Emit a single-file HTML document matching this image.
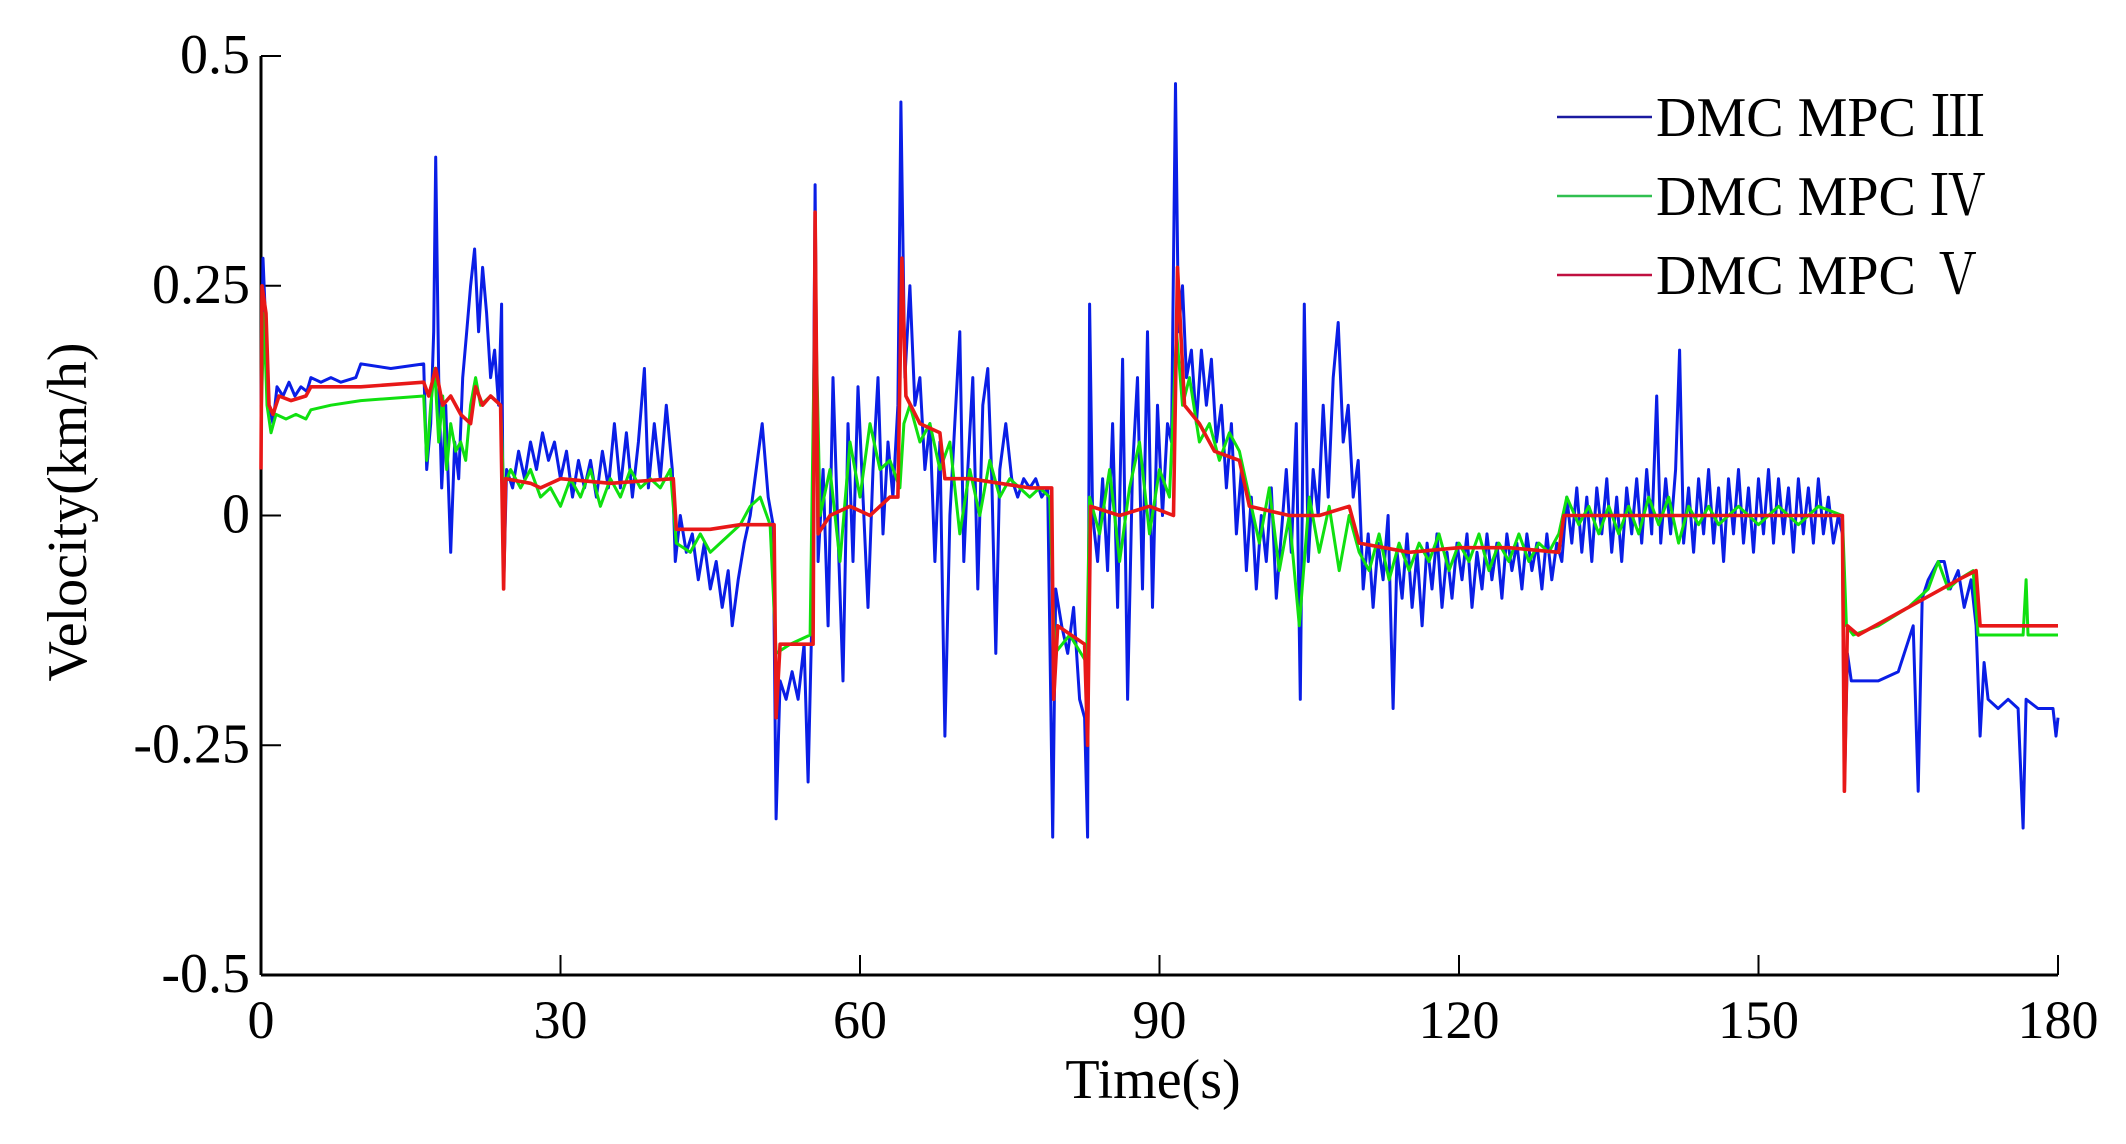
<!DOCTYPE html>
<html><head><meta charset="utf-8"><style>
html,body{margin:0;padding:0;background:#fff;}
svg{display:block;font-family:"Liberation Serif","Noto Serif CJK SC",serif;}
</style></head><body>
<svg id="chart" width="2126" height="1144" viewBox="0 0 2126 1144" xmlns="http://www.w3.org/2000/svg">
<g id="axes"></g>
<g id="series"></g>
<g id="legend"></g>
</svg>
<script>
const xTicks=[0,30,60,90,120,150,180];
const yTicks=[0.5,0.25,0,-0.25,-0.5];
const yTickLabels=["0.5","0.25","0","-0.25","-0.5"];
const seriesNames=["DMC MPC Ⅲ","DMC MPC Ⅳ","DMC MPC Ⅴ"];
const blue=[[0,0.12],[0.2,0.28],[0.5,0.2],[0.8,0.12],[1.2,0.1],[1.6,0.14],[2.2,0.13],[2.8,0.145],[3.4,0.13],[4,0.14],[4.6,0.135],[5,0.15],[6,0.145],[7,0.15],[8,0.145],[9.5,0.15],[10,0.165],[13,0.16],[16.3,0.165],[16.6,0.05],[17,0.1],[17.3,0.2],[17.5,0.39],[17.8,0.15],[18.1,0.03],[18.5,0.12],[19,-0.04],[19.4,0.08],[19.8,0.04],[20.2,0.15],[20.6,0.2],[21,0.25],[21.4,0.29],[21.8,0.2],[22.2,0.27],[22.6,0.22],[23,0.15],[23.4,0.18],[23.8,0.12],[24.1,0.23],[24.3,-0.08],[24.6,0.05],[25.2,0.03],[25.8,0.07],[26.4,0.04],[27,0.08],[27.6,0.05],[28.2,0.09],[28.8,0.06],[29.4,0.08],[30,0.04],[30.6,0.07],[31.2,0.02],[31.8,0.06],[32.4,0.03],[33,0.06],[33.6,0.02],[34.2,0.07],[34.8,0.03],[35.4,0.1],[36,0.03],[36.6,0.09],[37.2,0.02],[37.8,0.08],[38.4,0.16],[38.8,0.03],[39.4,0.1],[40,0.04],[40.6,0.12],[41.2,0.05],[41.5,-0.05],[42,0.0],[42.6,-0.04],[43.2,-0.02],[43.8,-0.07],[44.4,-0.03],[45,-0.08],[45.6,-0.05],[46.2,-0.1],[46.8,-0.06],[47.2,-0.12],[47.8,-0.07],[48.4,-0.03],[49,0.0],[49.6,0.05],[50.2,0.1],[50.8,0.02],[51.3,-0.01],[51.6,-0.33],[52,-0.18],[52.6,-0.2],[53.2,-0.17],[53.8,-0.2],[54.4,-0.14],[54.8,-0.29],[55.2,-0.1],[55.5,0.36],[55.8,-0.05],[56.3,0.05],[56.8,-0.12],[57.3,0.15],[57.8,-0.02],[58.3,-0.18],[58.8,0.1],[59.3,-0.05],[59.8,0.14],[60.3,0.02],[60.8,-0.1],[61.3,0.05],[61.8,0.15],[62.3,-0.02],[62.8,0.08],[63.3,0.02],[63.8,0.12],[64.1,0.45],[64.5,0.15],[65,0.25],[65.5,0.12],[66,0.15],[66.5,0.05],[67,0.1],[67.5,-0.05],[68,0.08],[68.5,-0.24],[69,0.0],[69.5,0.1],[70,0.2],[70.4,-0.05],[70.8,0.05],[71.3,0.15],[71.8,-0.08],[72.3,0.12],[72.8,0.16],[73.2,0.04],[73.6,-0.15],[74,0.05],[74.6,0.1],[75.2,0.04],[75.8,0.02],[76.4,0.04],[77,0.03],[77.6,0.04],[78.2,0.02],[78.8,0.03],[79.3,-0.35],[79.6,-0.08],[80.2,-0.12],[80.8,-0.15],[81.4,-0.1],[82,-0.2],[82.5,-0.22],[82.8,-0.35],[83,0.23],[83.3,0.0],[83.8,-0.05],[84.3,0.04],[84.8,-0.06],[85.3,0.1],[85.8,-0.1],[86.3,0.17],[86.8,-0.2],[87.3,0.05],[87.8,0.15],[88.3,-0.08],[88.8,0.2],[89.3,-0.1],[89.8,0.12],[90.3,0.0],[90.8,0.1],[91.2,0.08],[91.6,0.47],[91.9,0.2],[92.3,0.25],[92.7,0.15],[93.2,0.18],[93.7,0.1],[94.2,0.18],[94.7,0.12],[95.2,0.17],[95.7,0.08],[96.2,0.12],[96.7,0.03],[97.2,0.1],[97.7,-0.02],[98.2,0.05],[98.7,-0.06],[99.2,0.02],[99.7,-0.08],[100.2,0.0],[100.7,-0.05],[101.2,0.03],[101.7,-0.09],[102.2,-0.02],[102.7,0.05],[103.2,-0.04],[103.7,0.1],[104.1,-0.2],[104.5,0.23],[104.9,-0.05],[105.4,0.05],[105.9,0.0],[106.4,0.12],[106.9,0.02],[107.4,0.15],[107.9,0.21],[108.4,0.08],[108.9,0.12],[109.4,0.02],[109.9,0.06],[110.4,-0.08],[110.9,-0.02],[111.4,-0.1],[111.9,-0.03],[112.4,-0.07],[112.9,0.0],[113.4,-0.21],[113.8,-0.04],[114.3,-0.09],[114.8,-0.02],[115.3,-0.1],[115.8,-0.04],[116.3,-0.12],[116.8,-0.03],[117.3,-0.08],[117.8,-0.02],[118.3,-0.1],[118.8,-0.04],[119.3,-0.09],[119.8,-0.03],[120.3,-0.07],[120.8,-0.02],[121.3,-0.1],[121.8,-0.04],[122.3,-0.08],[122.8,-0.02],[123.3,-0.07],[123.8,-0.03],[124.3,-0.09],[124.8,-0.02],[125.3,-0.06],[125.8,-0.03],[126.3,-0.08],[126.8,-0.02],[127.3,-0.06],[127.8,-0.03],[128.3,-0.08],[128.8,-0.02],[129.3,-0.07],[129.8,-0.03],[130.3,-0.05],[130.8,0.02],[131.3,-0.03],[131.8,0.03],[132.3,-0.04],[132.8,0.02],[133.3,-0.05],[133.8,0.03],[134.3,-0.02],[134.8,0.04],[135.3,-0.04],[135.8,0.02],[136.3,-0.05],[136.8,0.03],[137.3,-0.02],[137.8,0.04],[138.3,-0.03],[138.8,0.05],[139.3,-0.02],[139.8,0.13],[140.2,-0.03],[140.7,0.04],[141.2,-0.02],[141.7,0.05],[142.1,0.18],[142.5,-0.03],[143,0.03],[143.5,-0.04],[144,0.04],[144.5,-0.02],[145,0.05],[145.5,-0.03],[146,0.03],[146.5,-0.05],[147,0.04],[147.5,-0.02],[148,0.05],[148.5,-0.03],[149,0.03],[149.5,-0.04],[150,0.04],[150.5,-0.02],[151,0.05],[151.5,-0.03],[152,0.04],[152.5,-0.02],[153,0.03],[153.5,-0.04],[154,0.04],[154.5,-0.02],[155,0.03],[155.5,-0.03],[156,0.04],[156.5,-0.02],[157,0.02],[157.5,-0.03],[158,0.0],[158.4,-0.02],[158.6,-0.3],[158.9,-0.15],[159.3,-0.18],[162,-0.18],[164,-0.17],[165.5,-0.12],[166,-0.3],[166.4,-0.09],[167,-0.07],[168,-0.05],[168.6,-0.05],[169.2,-0.08],[170,-0.06],[170.6,-0.1],[171.3,-0.07],[171.8,-0.12],[172.2,-0.24],[172.6,-0.16],[173,-0.2],[174,-0.21],[175,-0.2],[176,-0.21],[176.5,-0.34],[176.8,-0.2],[178,-0.21],[179.5,-0.21],[179.8,-0.24],[180,-0.22]];
const green=[[0,0.1],[0.3,0.22],[0.6,0.12],[1,0.09],[1.5,0.11],[2.5,0.105],[3.5,0.11],[4.5,0.105],[5,0.115],[7,0.12],[10,0.125],[16.3,0.13],[16.6,0.06],[17,0.12],[17.4,0.16],[17.8,0.08],[18.2,0.13],[18.6,0.05],[19,0.1],[19.5,0.07],[20,0.08],[20.5,0.06],[21,0.12],[21.5,0.15],[22,0.12],[23,0.13],[24,0.12],[24.3,0.03],[25,0.05],[26,0.03],[27,0.05],[28,0.02],[29,0.03],[30,0.01],[31,0.04],[32,0.02],[33,0.05],[34,0.01],[35,0.04],[36,0.02],[37,0.05],[38,0.03],[39,0.04],[40,0.03],[41,0.05],[41.6,-0.03],[43,-0.04],[44,-0.02],[45,-0.04],[46,-0.03],[47,-0.02],[48,-0.01],[49,0.01],[50,0.02],[51,-0.01],[51.6,-0.15],[53,-0.14],[55,-0.13],[55.5,0.25],[56,0.0],[57,0.05],[58,-0.05],[59,0.08],[60,0.02],[61,0.1],[62,0.05],[63,0.06],[64,0.03],[64.4,0.1],[65,0.12],[66,0.08],[67,0.1],[68,0.05],[69,0.08],[70,-0.02],[71,0.05],[72,0.0],[73,0.06],[74,0.02],[75,0.04],[76,0.03],[77,0.02],[78,0.03],[79,0.02],[79.5,-0.15],[81,-0.13],[82.7,-0.16],[83,0.02],[84,-0.02],[85,0.05],[86,-0.05],[87,0.03],[88,0.08],[89,-0.02],[90,0.05],[91,0.02],[91.7,0.2],[92.3,0.12],[93,0.15],[94,0.08],[95,0.1],[96,0.06],[97,0.09],[98,0.07],[99,0.02],[100,-0.03],[101,0.03],[102,-0.06],[103,0.0],[104,-0.12],[105,0.02],[106,-0.04],[107,0.01],[108,-0.06],[109,0.0],[110,-0.04],[111,-0.06],[112,-0.02],[113,-0.07],[114,-0.03],[115,-0.06],[116,-0.03],[117,-0.05],[118,-0.02],[119,-0.06],[120,-0.03],[121,-0.05],[122,-0.02],[123,-0.06],[124,-0.03],[125,-0.05],[126,-0.02],[127,-0.05],[128,-0.03],[129,-0.04],[130,-0.02],[130.8,0.02],[132,-0.01],[133,0.01],[134,-0.02],[135,0.01],[136,-0.02],[137,0.01],[138,-0.02],[139,0.02],[140,-0.01],[141,0.02],[142,-0.03],[143,0.01],[144,-0.01],[145,0.01],[146,-0.01],[148,0.01],[150,-0.01],[152,0.01],[154,-0.01],[156,0.01],[158.4,0.0],[158.8,-0.12],[159.5,-0.13],[162,-0.12],[165,-0.1],[167,-0.08],[168,-0.05],[169,-0.08],[170,-0.07],[171.5,-0.06],[172,-0.13],[172.5,-0.13],[176.5,-0.13],[176.8,-0.07],[177,-0.13],[180,-0.13]];
const red=[[0,0.05],[0.1,0.25],[0.5,0.22],[0.8,0.12],[1.2,0.11],[1.8,0.13],[3,0.125],[4.5,0.13],[5,0.14],[10,0.14],[16.3,0.145],[16.8,0.13],[17.5,0.16],[18.2,0.12],[19,0.13],[20,0.11],[21,0.1],[21.5,0.14],[22.2,0.12],[23,0.13],[24,0.12],[24.3,-0.08],[24.5,0.04],[27,0.035],[28,0.03],[30,0.04],[35,0.035],[41.3,0.04],[41.6,-0.015],[45,-0.015],[48,-0.01],[51.4,-0.01],[51.6,-0.22],[52,-0.14],[55.3,-0.14],[55.5,0.33],[55.8,-0.02],[57,0.0],[59,0.01],[61,0.0],[63,0.02],[63.8,0.02],[64.2,0.28],[64.6,0.13],[66,0.1],[68,0.09],[68.5,0.04],[71,0.04],[74,0.035],[77,0.03],[79.2,0.03],[79.4,-0.2],[79.8,-0.12],[82.5,-0.14],[82.8,-0.25],[83.1,0.01],[86,0.0],[89,0.01],[91.4,0.0],[91.8,0.27],[92.5,0.12],[94,0.1],[95.5,0.07],[98,0.06],[99,0.01],[103,0.0],[106,0.0],[109,0.01],[110,-0.03],[115,-0.04],[120,-0.035],[125,-0.035],[130,-0.04],[130.5,0.0],[135,0.0],[145,0.0],[158.4,0.0],[158.6,-0.3],[158.9,-0.12],[160,-0.13],[165,-0.1],[170,-0.07],[171.8,-0.06],[172.2,-0.12],[180,-0.12]];

const NS="http://www.w3.org/2000/svg";
const L=261,R=2058,T=56,B=975;
function xs(t){return L+(t-0)/(180-0)*(R-L);}
function ys(v){return B-(v+0.5)/(1.0)*(B-T);}
function mk(tag,attrs,parent){const e=document.createElementNS(NS,tag);for(const k in attrs)e.setAttribute(k,attrs[k]);parent.appendChild(e);return e;}
const axes=document.getElementById('axes');
let a=mk('line',{x1:L,y1:T,x2:L,y2:B,stroke:'#000','stroke-width':3},axes);


a=mk('line',{x1:L,y1:B,x2:R,y2:B,stroke:'#000','stroke-width':3},axes);


xTicks.forEach((t,i)=>{
  const tk=mk('line',{x1:xs(t),y1:B,x2:xs(t),y2:B-20,stroke:'#000','stroke-width':2},axes);
  
  
  const tx=mk('text',{x:xs(t),y:1038,'text-anchor':'middle','font-size':54},axes);
  tx.textContent=String(t);
  
  
});
yTicks.forEach((v,i)=>{
  const tk=mk('line',{x1:L,y1:ys(v),x2:L+20,y2:ys(v),stroke:'#000','stroke-width':2},axes);
  
  
  const tx=mk('text',{x:250,y:ys(v)+17,'text-anchor':'end','font-size':56},axes);
  tx.textContent=yTickLabels[i];
  
  
});
let tt=mk('text',{x:1153,y:1098,'text-anchor':'middle','font-size':56},axes);
tt.textContent='Time(s)';


tt=mk('text',{x:0,y:0,'text-anchor':'middle','font-size':56,transform:'translate(86,512) rotate(-90)'},axes);
tt.textContent='Velocity(km/h)';



const sg=document.getElementById('series');
const colors=['#0a1ee6','#10e010','#e81818'];
const widths=[3,3,3.6];
[blue,green,red].forEach((d,i)=>{
  const p=mk('polyline',{points:d.map(q=>xs(q[0]).toFixed(1)+','+ys(q[1]).toFixed(1)).join(' '),fill:'none',stroke:colors[i],'stroke-width':widths[i],'stroke-linejoin':'round'},sg);
  
  
});
const lg=document.getElementById('legend');
seriesNames.forEach((n,i)=>{
  const y=117+i*79;
  const ln=mk('line',{x1:1557,y1:y,x2:1652,y2:y,stroke:['#1a1aa0','#30c050','#c01040'][i],'stroke-width':2.5},lg);
  
  
  const tx=mk('text',{x:1656,y:y+19,'font-size':56},lg);
  tx.textContent=n;
  
  
});
</script>
</body></html>
